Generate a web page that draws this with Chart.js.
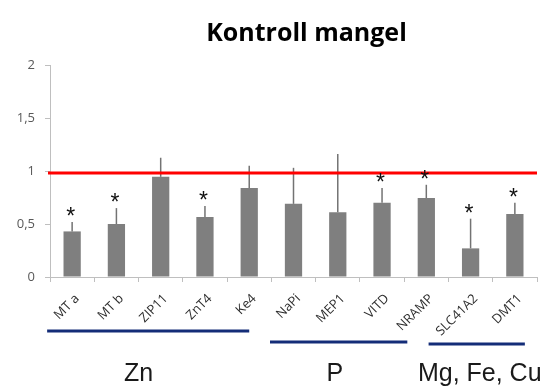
<!DOCTYPE html>
<html>
<head>
<meta charset="utf-8">
<script src="https://cdn.jsdelivr.net/npm/chart.js@4.4.1/dist/chart.umd.min.js"></script>
<style>
  html, body { margin: 0; padding: 0; background: #fff; }
  #wrap { width: 542px; height: 388px; position: relative; }
</style>
</head>
<body>
<div id="wrap"><canvas id="c"></canvas></div>
<script>
// Relative expression (deficiency vs. control), mean and upper error limit
const genes = ['MT a', 'MT b', 'ZIP11', 'ZnT4', 'Ke4', 'NaPi', 'MEP1', 'VITD', 'NRAMP', 'SLC41A2', 'DMT1'];
const ratio = [0.43, 0.50, 0.945, 0.565, 0.84, 0.69, 0.61, 0.70, 0.745, 0.27, 0.595];
const ratioUpper = [0.52, 0.65, 1.125, 0.67, 1.05, 1.03, 1.16, 0.84, 0.87, 0.55, 0.70];
const significant = [true, true, false, true, false, false, false, true, true, true, true];
const yTickLabels = ['0', '0,5', '1', '1,5', '2'];
const controlLevel = 0.98;

// Mineral groups under the gene labels (first and last gene index)
const groupNames = ['Zn', 'P', 'Mg, Fe, Cu'];
const groupFirst = [0, 5, 9];
const groupLast = [4, 8, 10];

const overlay = {
  id: 'overlay',
  afterDatasetsDraw(chart, args, opts) {
    const { ctx, chartArea, scales: { y } } = chart;
    const bars = chart.getDatasetMeta(0).data;
    ctx.save();
    // upper error whiskers
    ctx.strokeStyle = '#737373';
    ctx.lineWidth = 1.5;
    bars.forEach((bar, i) => {
      const top = y.getPixelForValue(ratioUpper[i]);
      ctx.beginPath();
      ctx.moveTo(bar.x, bar.y);
      ctx.lineTo(bar.x, top);
      ctx.stroke();
    });
    // control reference line
    const cy = y.getPixelForValue(controlLevel);
    ctx.strokeStyle = '#ff0000';
    ctx.lineWidth = 3;
    ctx.beginPath();
    ctx.moveTo(chartArea.left - 2, cy);
    ctx.lineTo(chartArea.right, cy);
    ctx.stroke();
    // significance stars
    ctx.fillStyle = '#111';
    ctx.font = '23px "Liberation Sans"';
    ctx.textAlign = 'center';
    ctx.textBaseline = 'alphabetic';
    bars.forEach((bar, i) => {
      if (!significant[i]) return;
      const top = y.getPixelForValue(ratioUpper[i]);
      ctx.fillText('*', bar.x - 1.5, top + 2);
    });
    ctx.restore();
  },
  afterDraw(chart, args, opts) {
    const { ctx, scales: { x } } = chart;
    ctx.save();
    ctx.strokeStyle = opts.lineColor;
    ctx.lineWidth = 3;
    ctx.fillStyle = opts.textColor;
    ctx.font = opts.font;
    ctx.textAlign = 'center';
    ctx.textBaseline = 'middle';
    groupNames.forEach((name, g) => {
      const st = opts.groups[g];
      const a = x.getPixelForValue(groupFirst[g]);
      const b = x.getPixelForValue(groupLast[g]);
      ctx.beginPath();
      ctx.moveTo(a + st.from, st.lineY);
      ctx.lineTo(b + st.to, st.lineY);
      ctx.stroke();
      ctx.fillText(name, (a + b) / 2 + st.textShift, opts.textY);
    });
    ctx.restore();
  }
};

new Chart(document.getElementById('c'), {
  type: 'bar',
  data: {
    labels: genes,
    datasets: [{
      data: ratio,
      backgroundColor: '#7f7f7f',
      borderWidth: 0,
      categoryPercentage: 1,
      barPercentage: 0.39
    }]
  },
  options: {
    responsive: true,
    maintainAspectRatio: false,
    animation: false,
    events: [],
    layout: { padding: { top: 65, right: 5, bottom: 0, left: 0 } },
    plugins: {
      legend: { display: false },
      tooltip: { enabled: false },
      title: { display: false },
      overlay: {
        lineColor: '#142d78',
        textColor: '#1a1a1a',
        font: '25px "Liberation Sans"',
        textY: 374,
        groups: [
          { from: -25, to: 0, lineY: 331, textShift: -22 },
          { from: -23.5, to: -19, lineY: 342, textShift: -25 },
          { from: -42, to: 10, lineY: 344, textShift: -13 }
        ]
      }
    },
    scales: {
      x: {
        offset: true,
        grid: { offset: true, drawOnChartArea: false, drawTicks: true, tickLength: 5, color: '#bfbfbf' },
        border: { color: '#bfbfbf' },
        ticks: {
          maxRotation: 45, minRotation: 45, padding: 9, labelOffset: 5,
          color: '#2e2e2e',
          font: { family: '"Open Sans"', size: 13 }
        },
        afterFit(scale) { scale.height = 111; }
      },
      y: {
        min: 0, max: 2,
        grid: { drawOnChartArea: false, drawTicks: true, tickLength: 5, color: '#bfbfbf' },
        border: { color: '#bfbfbf' },
        ticks: {
          stepSize: 0.5, padding: 10,
          color: '#595959',
          font: { family: '"Open Sans"', size: 13 },
          callback: (v, i) => yTickLabels[i]
        },
        afterFit(scale) { scale.width = 50; }
      }
    }
  },
  plugins: [overlay, {
    id: 'heading',
    afterDraw(chart) {
      const { ctx, chartArea } = chart;
      ctx.save();
      ctx.fillStyle = '#000';
      ctx.font = 'bold 25px "Open Sans"';
      ctx.textAlign = 'center';
      ctx.textBaseline = 'middle';
      ctx.fillText('Kontroll mangel', (chartArea.left + chartArea.right) / 2 + 13, 34);
      ctx.restore();
    }
  }]
});
</script>
</body>
</html>
